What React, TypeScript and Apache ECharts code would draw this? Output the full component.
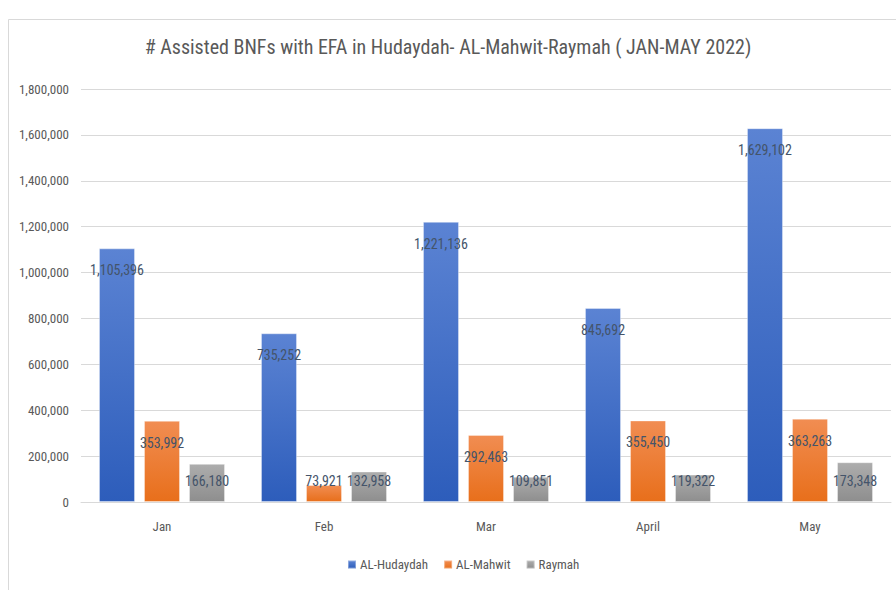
import React, { useEffect, useRef } from "react";
import * as echarts from "echarts";

const title = "# Assisted BNFs with EFA in Hudaydah- AL-Mahwit-Raymah ( JAN-MAY 2022)";
const categories = ["Jan", "Feb", "Mar", "April", "May"];
const seriesNames = ["AL-Hudaydah", "AL-Mahwit", "Raymah"];
const hudaydah = [1105396, 735252, 1221136, 845692, 1629102];
const mahwit = [353992, 73921, 292463, 355450, 363263];
const raymah = [166180, 132958, 109851, 119322, 173348];
const yMax = 1800000;
const yInterval = 200000;

const FONT = "'Liberation Sans Narrow', 'Roboto Condensed', 'Arial Narrow', sans-serif";

const gradients = [
  ["#5B83D3", "#2D5DBB"],
  ["#F18D52", "#E86F1B"],
  ["#ADADAD", "#8E8E8E"],
];

const fmt = (v: number) => v.toLocaleString("en-US");

export default function App() {
  const ref = useRef<HTMLDivElement>(null);
  useEffect(() => {
    if (!ref.current) return;
    const chart = echarts.init(ref.current, undefined, { renderer: "svg" });
    const allData = [hudaydah, mahwit, raymah];
    chart.setOption({
      animation: false,
      backgroundColor: "#ffffff",
      textStyle: { fontFamily: FONT },
      title: {
        text: title,
        left: "center",
        top: 32,
        textStyle: { fontFamily: FONT, fontSize: 20, fontWeight: "normal", color: "#595959" },
      },
      graphic: [
        {
          type: "rect",
          shape: { x: 8.5, y: 19.5, width: 950, height: 650 },
          style: { fill: "none", stroke: "#D9D9D9", lineWidth: 1 },
          silent: true,
        },
      ],
      legend: {
        bottom: 14,
        left: 342,
        itemWidth: 8,
        itemHeight: 8,
        itemGap: 15,
        icon: "rect",
        textStyle: { fontFamily: FONT, fontSize: 13, color: "#595959", padding: [0, 0, 0, -1] },
        data: seriesNames,
      },
      grid: { left: 81, right: 5, top: 89, bottom: 88, containLabel: false },
      xAxis: {
        type: "category",
        data: categories,
        axisLine: { show: true, lineStyle: { color: "#D9D9D9" } },
        axisTick: { show: false },
        axisLabel: { fontFamily: FONT, fontSize: 13, color: "#595959", margin: 18 },
      },
      yAxis: {
        type: "value",
        min: 0,
        max: yMax,
        interval: yInterval,
        axisLine: { show: false },
        axisTick: { show: false },
        splitLine: { lineStyle: { color: "#D9D9D9", width: 1 } },
        axisLabel: {
          fontFamily: FONT,
          fontSize: 13,
          color: "#595959",
          margin: 12,
          formatter: (v: number) => fmt(v),
        },
      },
      series: seriesNames.map((name, i) => ({
        name,
        type: "bar",
        data: allData[i],
        barGap: "25%",
        barCategoryGap: "22.2%",
        itemStyle: {
          color: new echarts.graphic.LinearGradient(0, 0, 0, 1, [
            { offset: 0, color: gradients[i][0] },
            { offset: 1, color: gradients[i][1] },
          ]),
          borderColor: "rgba(255,255,255,0.35)",
          borderWidth: 1,
        },
        label: {
          show: true,
          position: "insideTop",
          fontFamily: FONT,
          fontSize: 14,
          color: "#44546A",
          formatter: (p: any) => fmt(p.value),
        },
        labelLayout: (p: any) => {
          const r = p.rect;
          return {
            x: r.x + r.width / 2,
            y: Math.min(r.y + 22, r.y + r.height - 21),
            align: "center",
            verticalAlign: "middle",
          };
        },
      })),
      color: gradients.map((g) => g[1]),
    });
    return () => chart.dispose();
  }, []);
  return (
    <div
      ref={ref}
      style={{ position: "fixed", left: 0, top: 0, width: 896, height: 590 }}
    />
  );
}
